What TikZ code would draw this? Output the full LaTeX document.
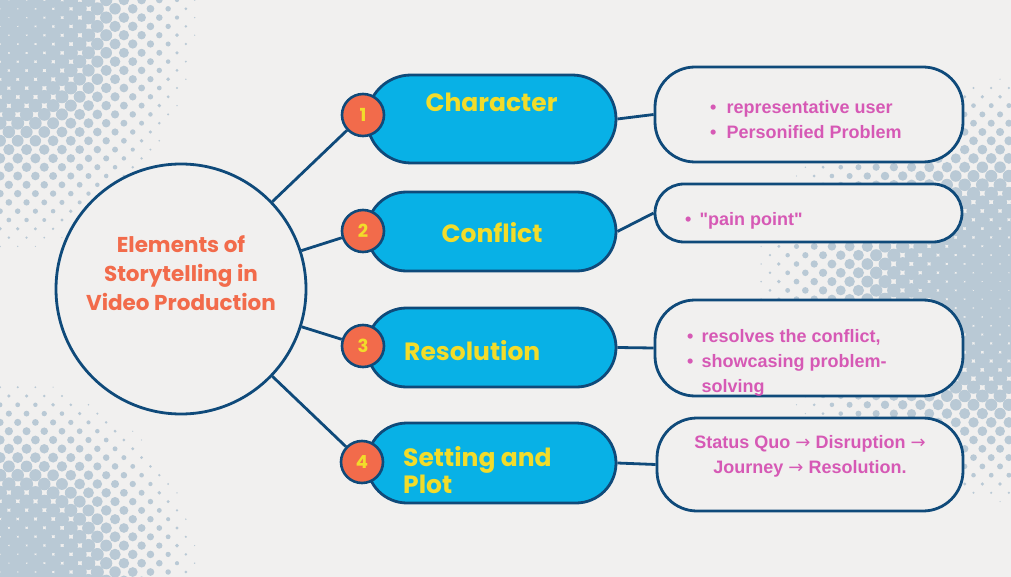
\documentclass[tikz,border=0pt]{standalone}
\usepackage{fontspec}
\setmainfont{Poppins}
\newfontfamily\pinkfont{Liberation Sans}
\newfontfamily\arrfont{DejaVu Sans}
\newcommand\rarr{{\arrfont\mdseries →}}
\definecolor{bg}{HTML}{F1F0EF}
\definecolor{dotc}{HTML}{B9C9D5}
\definecolor{navy}{HTML}{0F4A7A}
\definecolor{cyanfill}{HTML}{08B1E6}
\definecolor{orangec}{HTML}{F26B4B}
\definecolor{yellowc}{HTML}{F2DC2A}
\definecolor{pinkc}{HTML}{D659B5}
\newcommand\dotpatch[8]{%
  \foreach \ii in {#5,...,#6}{%
    \foreach \jj in {#7,...,#8}{%
      \pgfmathsetmacro\px{\jj*17.7+mod(\ii,2)*8.85}%
      \pgfmathsetmacro\py{\ii*8.8}%
      \pgfmathsetmacro\uu{((\px-#1)/#3)^2+((\py-#2)/#4)^2}%
      \pgfmathsetmacro\rr{8.4*(1-\uu)}%
      \ifdim\rr pt>0.6pt \fill[dotc] (\px,\py) circle[radius=\rr pt];\fi
    }}}
\tikzset{
  hub/.style={circle, draw=navy, line width=2.8pt, fill=bg, minimum size=250pt, inner sep=0pt},
  titletext/.style={text=orangec, font=\fontsize{21.5}{29}\selectfont\bfseries, align=center, inner sep=0pt},
  pillbox/.style={draw=navy, fill=cyanfill, line width=2.8pt, minimum width=249pt, inner sep=0pt},
  badge/.style={circle, draw=navy, fill=orangec, line width=2.6pt, minimum size=42pt, inner sep=0pt, text=yellowc, font=\fontsize{18}{20}\selectfont\bfseries},
  headtext/.style={text=yellowc, font=\fontsize{25}{27}\selectfont\bfseries, inner sep=0pt},
  infobox/.style={draw=navy, fill=bg, line width=2.8pt, inner sep=0pt},
  pinktext/.style={text=pinkc, font=\pinkfont\fontsize{18}{25}\selectfont\bfseries, inner sep=0pt},
  conn/.style={draw=navy, line width=2.8pt},
}
\begin{document}
\begin{tikzpicture}[x=1pt,y=-1pt]
\useasboundingbox (0,0) rectangle (1011,577);
\fill[bg] (0,0) rectangle (1011,577);
\dotpatch{0}{0}{205}{260}{0}{30}{0}{12}
\dotpatch{0}{577}{205}{205}{40}{66}{0}{12}
\dotpatch{1011}{290}{265}{220}{7}{58}{40}{57}

% hub
\node[hub] (hub) at (181,289) {};
\node[titletext] (title) at (181,273) {Elements of\\Storytelling in\\Video Production};

% pills
\node[pillbox, minimum height=88pt, rounded corners=44pt] (p1) at (491.5,119) {};
\node[pillbox, minimum height=79pt, rounded corners=39.5pt] (p2) at (491.5,231.5) {};
\node[pillbox, minimum height=79pt, rounded corners=39.5pt] (p3) at (491.5,347.5) {};
\node[pillbox, minimum height=80pt, rounded corners=40pt] (p4) at (491.5,463) {};

\node[headtext] (t1) at (491.5,102) {Character};
\node[headtext] (t2) at (492,233) {Conflict};
\node[headtext, anchor=west] (t3) at (404,351) {Resolution};
\node[headtext, anchor=west, align=left] (t4) at (403,470.5) {Setting and\\Plot};

% badges
\node[badge] (b1) at (363,115) {1};
\node[badge] (b2) at (363,231) {2};
\node[badge] (b3) at (363,346) {3};
\node[badge] (b4) at (362,462) {4};

% info boxes
\node[infobox, minimum width=308pt, minimum height=95pt, rounded corners=40pt] (x1) at (809,114.5) {};
\node[infobox, minimum width=307pt, minimum height=58pt, rounded corners=29pt] (x2) at (808.5,213) {};
\node[infobox, minimum width=308pt, minimum height=96pt, rounded corners=40pt] (x3) at (809,348) {};
\node[infobox, minimum width=306pt, minimum height=93pt, rounded corners=40pt] (x4) at (810,464.5) {};

\node[pinktext, anchor=west] (l1) at (710,121.5) {\begin{tabular}{@{}l@{\hspace{10pt}}l@{}}\textbullet & representative user\\ \textbullet & Personified Problem\end{tabular}};
\node[pinktext, anchor=west] (l2) at (685,221) {\begin{tabular}{@{}l@{\hspace{8pt}}l@{}}\textbullet & "pain point"\end{tabular}};
\node[pinktext, anchor=west] (l3) at (687,362.5) {\begin{tabular}{@{}l@{\hspace{8pt}}l@{}}\textbullet & resolves the conflict,\\ \textbullet & showcasing problem-\\ & solving\end{tabular}};
\node[pinktext] (l4) at (810,455.5) {\begin{tabular}{@{}c@{}}Status Quo \rarr{} Disruption \rarr\\ Journey \rarr{} Resolution.\end{tabular}};

% connectors
\draw[conn] (hub) -- (b1);
\draw[conn] (hub) -- (b2);
\draw[conn] (hub) -- (b3);
\draw[conn] (hub) -- (b4);
\draw[conn] (p1.east) -- (x1.west);
\draw[conn] (p2.east) -- (x2.west);
\draw[conn] (p3.east) -- (x3.west);
\draw[conn] (p4.east) -- (x4.west);
\end{tikzpicture}
\end{document}
